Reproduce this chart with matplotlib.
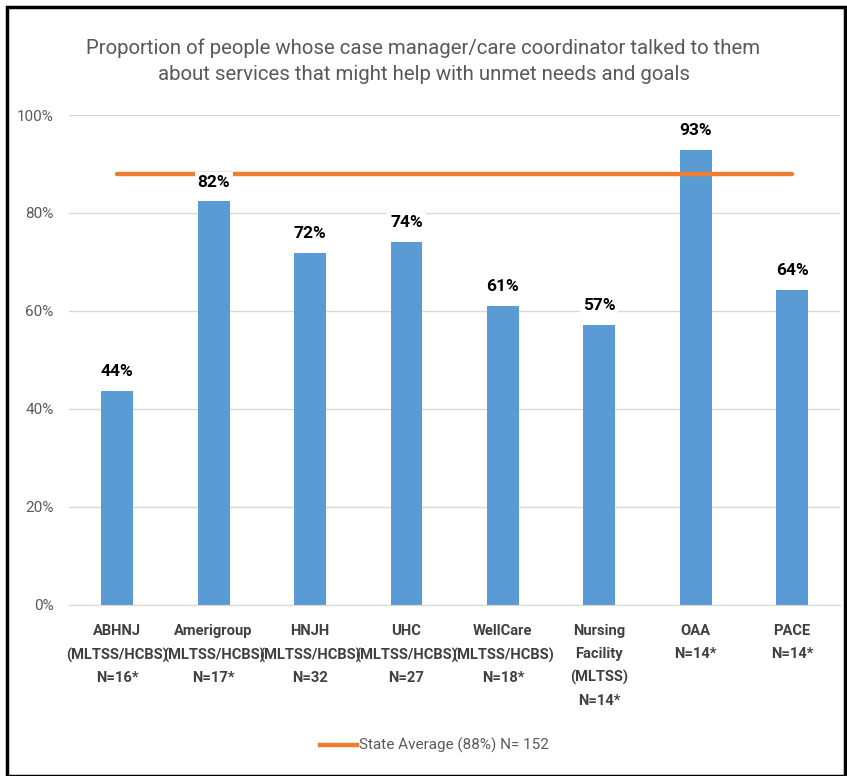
import matplotlib.pyplot as plt
import matplotlib.patches as mpatches
from matplotlib.lines import Line2D

plt.rcParams['font.family'] = ['Roboto', 'DejaVu Sans']

categories = ['ABHNJ\n(MLTSS/HCBS)\nN=16*', 'Amerigroup\n(MLTSS/HCBS)\nN=17*',
              'HNJH\n(MLTSS/HCBS)\nN=32', 'UHC\n(MLTSS/HCBS)\nN=27',
              'WellCare\n(MLTSS/HCBS)\nN=18*', 'Nursing\nFacility\n(MLTSS)\nN=14*',
              'OAA\nN=14*', 'PACE\nN=14*']
values = [0.4375, 0.8235, 0.7188, 0.7407, 0.6111, 0.5714, 0.9286, 0.6429]
labels = ['44%', '82%', '72%', '74%', '61%', '57%', '93%', '64%']
state_avg = 0.88
avg_label = 'State Average (88%) N= 152'
title = ('Proportion of people whose case manager/care coordinator talked to them\n'
         'about services that might help with unmet needs and goals')

fig = plt.figure(figsize=(8.47, 7.76), dpi=100)
ax = fig.add_axes([0.0815, 0.2204, 0.9105, 0.6314])

x = range(len(categories))
ax.bar(x, values, width=0.33, color='#5B9BD5', zorder=2)

# state average line
ax.plot([0, 7], [state_avg, state_avg], color='#ED7D31', lw=3.2,
        solid_capstyle='round', zorder=3)

for i, v in enumerate(values):
    ax.text(i, v + 0.024, labels[i], ha='center', va='bottom', fontsize=12.5,
            fontweight='bold', color='black', zorder=4,
            bbox=dict(facecolor='white', edgecolor='none', pad=2))

ax.set_xlim(-0.5, 7.5)
ax.set_ylim(0, 1)
ax.set_yticks([0, 0.2, 0.4, 0.6, 0.8, 1.0])
ax.set_yticklabels(['0%', '20%', '40%', '60%', '80%', '100%'])
ax.grid(axis='y', color='#D9D9D9', lw=1, zorder=0)
ax.set_xticks(list(x))
ax.set_xticklabels(categories, fontsize=10.6, color='#404040', linespacing=1.78,
                   fontweight='bold')
ax.tick_params(axis='y', colors='#595959', labelsize=11, length=0, pad=11)
ax.tick_params(axis='x', length=0, pad=14)
for s in ['top', 'right', 'left']:
    ax.spines[s].set_visible(False)
ax.spines['bottom'].set_color('#D9D9D9')

fig.text(0.5, 0.921, title, ha='center', va='center', fontsize=14.7,
         color='#595959', linespacing=1.45)

handle = Line2D([], [], color='#ED7D31', lw=3.2)
fig.legend([handle], [avg_label], loc='center', bbox_to_anchor=(0.513, 0.039),
           frameon=False, fontsize=11, handlelength=2.4, handletextpad=0.15,
           labelcolor='#595959')

fig.patches.append(mpatches.Rectangle((0.008, 0.0), 0.99, 0.991, transform=fig.transFigure,
                                      fill=False, edgecolor='black', lw=2.5))

fig.savefig('out.png', dpi=100)
